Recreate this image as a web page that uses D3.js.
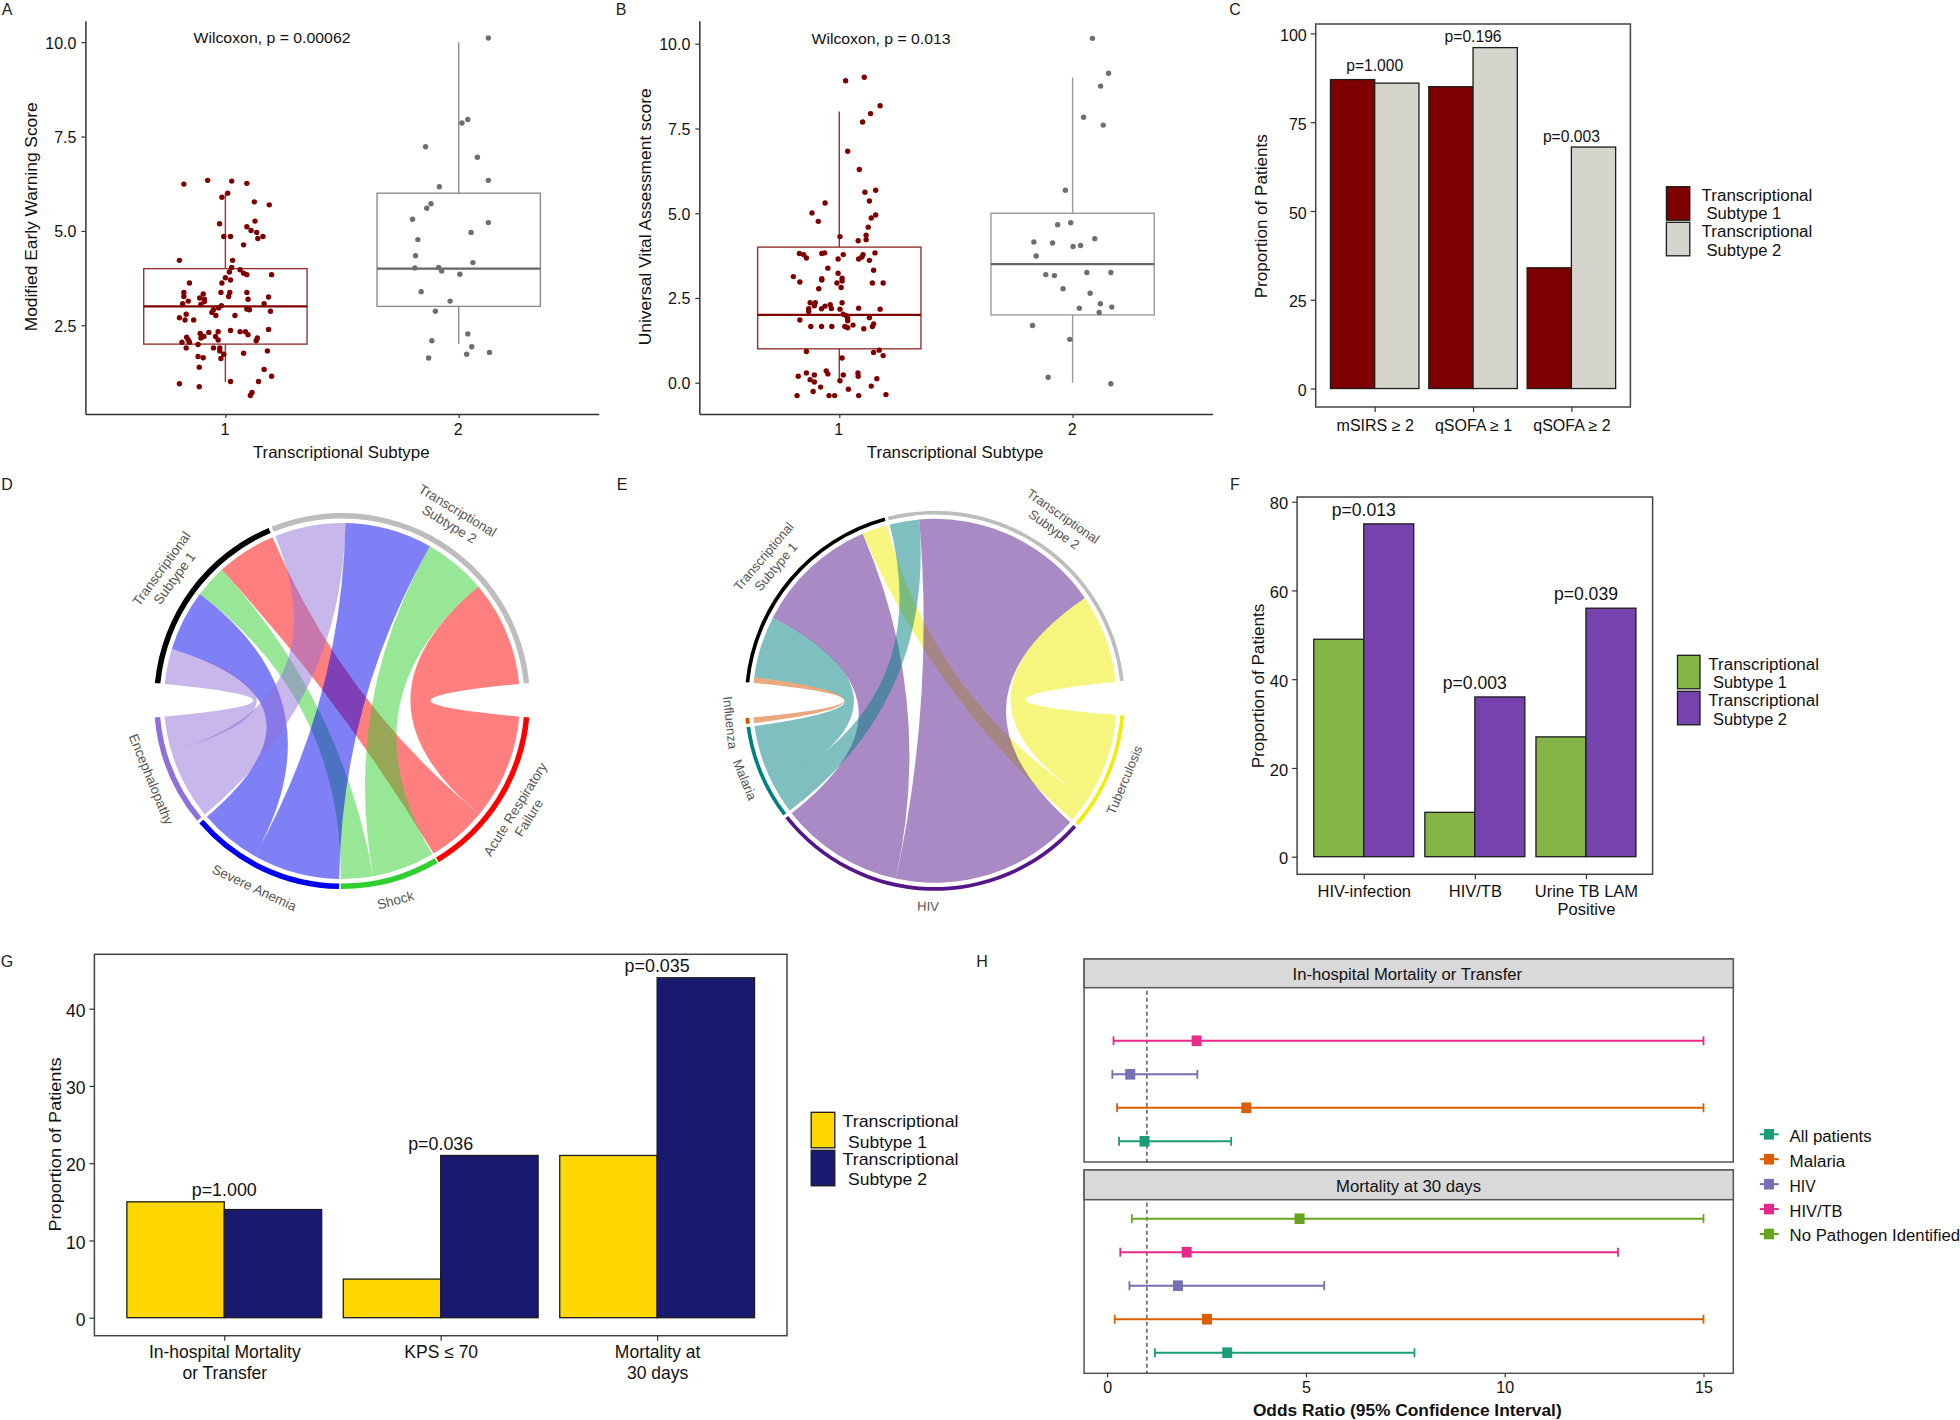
<!DOCTYPE html>
<html><head><meta charset="utf-8">
<script src="https://cdn.jsdelivr.net/npm/d3@7/dist/d3.min.js"></script>
<style>
html,body{margin:0;padding:0;background:#fff}
svg{display:block}
text{font-family:"Liberation Sans",Arial,sans-serif;fill:#111}
</style></head><body><svg id="c" width="1960" height="1420" viewBox="0 0 1960 1420"></svg>
<script>
// ---------- Panel A: MEWS, [jitter offset, score]
const mewsSubtype1=[[-.178,6.24],[-.076,6.34],[.027,6.32],[.092,6.26],[.010,6.00],[-.015,5.89],[.124,5.77],[.188,5.69],[-.025,5.19],[.127,5.26],[.092,5.11],[.110,5.01],[.134,4.96],[.161,4.85],[.139,4.80],[-.007,4.85],[.022,4.85],[.078,4.63],[-.197,4.22],[.031,4.22],[.027,4.03],[.063,3.97],[.017,3.91],[.078,3.88],[.092,3.84],[.198,3.84],[0,3.76],[.022,3.70],[-.015,3.62],[-.154,3.62],[-.178,3.37],[-.178,3.26],[-.095,3.33],[-.019,3.37],[.019,3.37],[.014,3.26],[.092,3.37],[-.110,3.22],[-.090,3.19],[.185,3.25],[.097,3.19],[-.159,3.14],[-.183,3.07],[-.090,3.13],[-.105,3.05],[.166,3.07],[-.017,3.02],[-.029,2.96],[-.051,2.91],[-.058,2.84],[.092,2.93],[.103,2.91],[.193,2.87],[-.168,2.79],[-.041,2.76],[.041,2.76],[-.197,2.70],[-.173,2.64],[-.136,2.64],[.185,2.39],[.022,2.36],[.063,2.33],[.086,2.33],[-.031,2.33],[-.071,2.31],[-.108,2.28],[.097,2.25],[-.166,2.18],[-.092,2.20],[-.105,2.16],[-.042,2.20],[.137,2.16],[-.159,2.11],[-.031,2.11],[.132,2.09],[-.186,2.05],[-.154,2.05],[-.117,1.99],[-.168,1.90],[-.051,1.90],[-.024,1.90],[-.024,1.82],[.180,1.82],[.078,1.76],[-.007,1.73],[-.117,1.67],[-.095,1.64],[-.019,1.62],[-.112,1.39],[.166,1.33],[.198,1.15],[.022,1.01],[.142,1.01],[-.197,.95],[-.112,.87],[.114,.72],[.107,.64]];
const mewsSubtype2=[[.127,10.11],[.039,7.95],[.014,7.86],[-.142,7.23],[.080,6.95],[.127,6.34],[-.083,6.17],[-.119,5.72],[-.137,5.60],[-.198,5.31],[.127,5.22],[.053,4.96],[-.175,4.77],[-.185,4.34],[.061,4.16],[-.188,4.02],[-.086,4.03],[-.073,3.94],[.005,3.85],[-.161,3.39],[-.037,3.14],[-.100,2.87],[.039,2.27],[-.115,2.09],[.056,1.93],[.132,1.78],[.034,1.73],[-.129,1.63]];
const mewsBoxes=[{cat:1,lo:1,q1:2,med:3,q3:4,hi:6},{cat:2,lo:2,q1:3,med:4,q3:6,hi:10}];
// ---------- Panel B: UVA
const uvaSubtype1=[[.107,9.01],[.027,8.91],[.175,8.17],[.134,7.94],[.100,7.69],[.036,6.83],[.086,6.29],[.110,5.62],[.156,5.68],[.129,5.36],[-.061,5.30],[-.117,5.01],[-.090,4.76],[.156,4.95],[.137,4.86],[.124,4.59],[.003,4.31],[.115,4.35],[.115,4.22],[.081,4.19],[-.171,3.81],[-.153,3.78],[-.141,3.68],[-.075,3.81],[-.063,3.83],[.017,3.78],[-.005,3.65],[.102,3.78],[.097,3.71],[.083,3.65],[.129,3.61],[.153,3.83],[-.049,3.38],[.147,3.32],[-.005,3.23],[-.197,3.13],[-.075,3.07],[.012,3.08],[-.075,3.03],[.012,3.00],[-.169,2.97],[-.010,2.94],[.142,2.94],[.188,2.94],[.008,2.81],[-.088,2.77],[-.125,2.36],[-.103,2.36],[.012,2.36],[-.039,2.30],[-.107,2.27],[-.061,2.26],[-.076,2.18],[-.034,2.19],[-.131,2.18],[-.131,2.10],[.003,2.17],[.083,2.20],[.175,2.17],[.017,2.02],[.029,1.98],[.129,1.92],[.036,1.90],[.036,1.83],[-.169,1.85],[.147,1.73],[.059,1.70],[-.122,1.66],[-.076,1.66],[-.032,1.66],[.024,1.66],[.036,1.62],[.142,1.66],[.105,1.59],[-.141,.92],[.147,.89],[.171,.96],[.188,.80],[.012,.73],[-.056,.35],[-.049,.26],[-.141,.29],[-.107,.23],[-.176,.19],[.017,.23],[.080,.29],[.081,.19],[.161,.12],[-.125,.09],[-.107,.02],[.003,.06],[.137,-.10],[-.080,-.13],[.039,-.19],[-.112,-.26],[.200,-.35],[-.181,-.38],[-.044,-.38],[-.020,-.38],[.083,-.38]];
const uvaSubtype2=[[.085,10.16],[.154,9.13],[.120,8.75],[.047,7.83],[.131,7.60],[-.031,5.68],[-.008,4.72],[-.064,4.66],[.095,4.25],[-.166,4.15],[-.086,4.12],[.034,4.05],[.002,4.02],[-.156,3.74],[.061,3.25],[.164,3.25],[-.115,3.19],[-.078,3.16],[-.041,2.77],[.075,2.64],[.119,2.33],[.168,2.23],[.029,2.20],[.114,2.07],[-.172,1.69],[-.012,1.28],[-.105,.16],[.164,-.03]];
const uvaBoxes=[{cat:1,lo:0,q1:1,med:2,q3:4,hi:8},{cat:2,lo:0,q1:2,med:3.5,q3:5,hi:9}];
// ---------- Bars
const subtypeLabel=["Transcriptional\n Subtype 1","Transcriptional\n Subtype 2"];
const cCats=["mSIRS ≥ 2","qSOFA ≥ 1","qSOFA ≥ 2"], cS1=[87,85,34], cS2=[86,96,68], cP=["p=1.000","p=0.196","p=0.003"];
const fCats=["HIV-infection","HIV/TB","Urine TB LAM\n Positive"], fS1=[49,10,27], fS2=[75,36,56], fP=["p=0.013","p=0.003","p=0.039"];
const gCats=["In-hospital Mortality\n or Transfer","KPS ≤ 70","Mortality at\n 30 days"], gS1=[15,5,21], gS2=[14,21,44], gP=["p=1.000","p=0.036","p=0.035"];
// ---------- Chord diagrams
const dTargets=["Acute Respiratory\nFailure","Shock","Severe Anemia","Encephalopathy"];
const dT1=[19.5,10.5,20,11.5], dT2=[34.5,20.4,28.5,23.1];
const dColors=["#ff0000","#2fcf2f","#0000ee","#8f6fd8"];
const eTargets=["Tuberculosis","HIV","Malaria","Influenza"];
const eT1=[8,39.4,19.7,1.8], eT2=[28.3,60.3,9.4,0];
const eColors=["#eeee00","#54168a","#008080","#d35400"];
// ---------- Panel H
const hGroups=["All patients","Malaria","HIV","HIV/TB","No Pathogen Identified"];
const hColors=["#1b9e77","#d95f02","#7570b3","#e7298a","#66a61e"];
const hMortTransfer=[{g:"HIV/TB",lo:.16,est:2.25,hi:15},{g:"HIV",lo:.13,est:.58,hi:2.27},{g:"Malaria",lo:.25,est:3.5,hi:15},{g:"All patients",lo:.30,est:.94,hi:3.12}];
const hMort30=[{g:"No Pathogen Identified",lo:.62,est:4.84,hi:15},{g:"HIV/TB",lo:.33,est:2.0,hi:12.85},{g:"HIV",lo:.56,est:1.78,hi:5.46},{g:"Malaria",lo:.19,est:2.51,hi:15},{g:"All patients",lo:1.2,est:3.02,hi:7.73}];

const svg=d3.select("#c");
const AX="#333";
function T(s,x,y,o={}){
  const t=svg.append("text").attr("x",x).attr("y",y).attr("dy",".36em")
    .attr("font-size",o.size||16).attr("text-anchor",o.anchor||"middle").text(s);
  if(o.rot!==undefined) t.attr("transform",`rotate(${o.rot},${x},${y})`);
  if(o.w) t.attr("textLength",o.w).attr("lengthAdjust","spacingAndGlyphs");
  if(o.weight) t.attr("font-weight",o.weight);
  if(o.fill) t.style("fill",o.fill);
  return t;
}
function styleAxis(g,size){
  g.selectAll("path,line").attr("stroke",AX).attr("stroke-width",1.2);
  g.selectAll("path.domain").attr("stroke-width",1.5);
  g.selectAll("text").attr("font-size",size||16).style("fill","#111");
}
function wrapTicks(g,lh){
  g.selectAll(".tick text").each(function(){
    const el=d3.select(this), parts=el.text().split("\n");
    if(parts.length<2) return;
    el.text(null);
    parts.forEach((p,i)=>el.append("tspan").attr("x",0).attr("dy",i?lh:"0.71em").text(p.trim()));
  });
}
// Box + jitter panel
function boxPanel(o){
  const x=d3.scaleLinear().domain([.4,2.6]).range(o.xr);
  const y=d3.scaleLinear().domain(o.yd).range([414,20.7]);
  const g=svg.append("g");
  o.boxes.forEach((b,i)=>{
    const c=o.boxCol[i], bg=g.append("g").attr("stroke",c).attr("fill","none");
    bg.append("line").attr("x1",x(b.cat)).attr("x2",x(b.cat)).attr("y1",y(b.lo)).attr("y2",y(b.q1)).attr("stroke-width",1.4);
    bg.append("line").attr("x1",x(b.cat)).attr("x2",x(b.cat)).attr("y1",y(b.q3)).attr("y2",y(b.hi)).attr("stroke-width",1.4);
    bg.append("rect").attr("x",x(b.cat-.35)).attr("width",x(b.cat+.35)-x(b.cat-.35)).attr("y",y(b.q3)).attr("height",y(b.q1)-y(b.q3)).attr("stroke-width",1.4);
    bg.append("line").attr("x1",x(b.cat-.35)).attr("x2",x(b.cat+.35)).attr("y1",y(b.med)).attr("y2",y(b.med)).attr("stroke-width",2.2).attr("stroke",o.medCol[i]);
  });
  o.pts.forEach((arr,i)=>{
    g.append("g").attr("fill",o.ptCol[i]).selectAll("circle").data(arr).join("circle")
      .attr("cx",d=>x(i+1+d[0])).attr("cy",d=>y(d[1])).attr("r",2.7);
  });
  const ay=svg.append("g").attr("transform",`translate(${o.xr[0]},0)`)
    .call(d3.axisLeft(y).tickValues(o.yt).tickFormat(d3.format(".1f")).tickSize(4).tickPadding(5).tickSizeOuter(0));
  styleAxis(ay);
  ay.selectAll("text").attr("y",.7);
  const ax=svg.append("g").attr("transform","translate(0,414)")
    .call(d3.axisBottom(x).tickValues([1,2]).tickFormat(d3.format("d")).tickSize(4).tickPadding(6).tickSizeOuter(0));
  styleAxis(ax);
  ax.selectAll("text").attr("x",-1);
  T("Transcriptional Subtype",x(1.5)-.8,451.7,{w:176.6,size:16.5});
  T(o.ytitle,o.ytx,216.8,{rot:-90,w:o.ytw,size:16});
  T(o.wil,o.wx,o.wy,{w:o.ww,size:15});
}
boxPanel({xr:[85.4,598.7],yd:[.148,10.57],yt:[2.5,5,7.5,10],boxes:mewsBoxes,pts:[mewsSubtype1,mewsSubtype2],
 boxCol:["#973333","#8c8c8c"],medCol:["#7f0000","#666"],ptCol:["#7f0000","#6e6e6e"],ytitle:"Modified Early Warning Score",ytx:31.6,ytw:229,wil:"Wilcoxon, p = 0.00062",wx:272,wy:37.7,ww:157});
boxPanel({xr:[699.3,1212.6],yd:[-.923,10.68],yt:[0,2.5,5,7.5,10],boxes:uvaBoxes,pts:[uvaSubtype1,uvaSubtype2],
 boxCol:["#973333","#9a9a9a"],medCol:["#7f0000","#666"],ptCol:["#7f0000","#6e6e6e"],ytitle:"Universal Vital Assessment score",ytx:645.6,ytw:257,wil:"Wilcoxon, p = 0.013",wx:881,wy:38.7,ww:139});

// Grouped bars
function barPanel(o){
  const x=d3.scalePoint().domain(o.cats).range(o.xr).padding(.6);
  const y=d3.scaleLinear().domain(o.yd).range(o.yr);
  const bw=x.step()*.45;
  svg.append("rect").attr("x",o.xr[0]).attr("y",o.yr[1]).attr("width",o.xr[1]-o.xr[0]).attr("height",o.yr[0]-o.yr[1])
    .attr("fill","none").attr("stroke","#444").attr("stroke-width",1.5);
  const stroke="#1c1c1c";
  [o.s1,o.s2].forEach((vals,j)=>{
    svg.append("g").selectAll("rect").data(vals).join("rect")
      .attr("x",(d,i)=>x(o.cats[i])+(j?0:-bw)).attr("width",bw)
      .attr("y",d=>y(d)).attr("height",d=>y(0)-y(d))
      .attr("fill",o.cols[j]).attr("stroke",stroke).attr("stroke-width",1.3);
  });
  const ay=svg.append("g").attr("transform",`translate(${o.xr[0]},0)`)
    .call(d3.axisLeft(y).tickValues(o.yt).tickSize(5).tickPadding(4).tickSizeOuter(0));
  styleAxis(ay,o.tsize);
  ay.select(".domain").remove();
  ay.selectAll("text").attr("y",2);
  const ax=svg.append("g").attr("transform",`translate(0,${o.yr[0]})`)
    .call(d3.axisBottom(x).tickSize(5).tickPadding(o.tp||7).tickSizeOuter(0));
  styleAxis(ax,o.tsize);
  ax.select(".domain").remove();
  wrapTicks(ax,o.lh);
  o.p.forEach((s,i)=>T(s,x(o.cats[i]),o.py[i],{size:o.psize,w:o.pw}));
  T("Proportion of Patients",o.ytx,o.yty,{rot:-90,w:o.ytw,size:o.ytsize||16});
  // legend
  const L=o.leg;
  [0,1].forEach(j=>{
    svg.append("rect").attr("x",L.x).attr("y",L.ys[j]).attr("width",L.sw).attr("height",L.sh)
      .attr("fill",o.cols[j]).attr("stroke",stroke).attr("stroke-width",1.3);
    const [a,b]=subtypeLabel[j].split("\n");
    T(a,L.tx,L.ty[j][0],{anchor:"start",w:L.tw,size:L.size});
    T(b.trim(),L.tx2,L.ty[j][1],{anchor:"start",w:L.tw2,size:L.size});
  });
}
barPanel({cats:cCats,s1:cS1,s2:cS2,p:cP,cols:["#7f0000","#d5d5ce"],xr:[1315.7,1630.4],yr:[407,24],yd:[-5.2,102.65],yt:[0,25,50,75,100],
  py:[65,36.7,136.7],psize:16,pw:57,ytx:1261,yty:216.3,ytw:164,tsize:16,lh:20,tp:8,
  leg:{x:1666.4,ys:[186.7,222.3],sw:23.4,sh:33.5,tx:1701.6,tx2:1706.4,tw:110.7,tw2:75,size:16,ty:[[195,213.7],[231,250.7]]}});
barPanel({cats:fCats,s1:fS1,s2:fS2,p:fP,cols:["#84b546","#7642ae"],xr:[1297.1,1652.6],yr:[874.3,497],yd:[-3.97,81.06],yt:[0,20,40,60,80],
  py:[509.3,682.3,594],psize:17.5,pw:64,ytx:1258.4,yty:686,ytw:164.6,tsize:16.5,lh:18,tp:6,
  leg:{x:1677.5,ys:[655.3,691.3],sw:22.5,sh:33.5,tx:1708.3,tx2:1713,tw:110.7,tw2:74,size:16,ty:[[664.3,682.3],[700,719.3]]}});
barPanel({cats:gCats,s1:gS1,s2:gS2,p:gP,cols:["#ffd700","#191970"],xr:[94.4,787],yr:[1335.7,954.3],yd:[-2.33,47.04],yt:[0,10,20,30,40],
  py:[1189.3,1144,966],psize:17.5,pw:65,ytx:55.5,yty:1144.5,ytw:174,ytsize:16.5,tsize:17.5,lh:20.7,tp:5,
  leg:{x:811.2,ys:[1112.3,1150.3],sw:23.6,sh:35.5,tx:842.5,tx2:848,tw:116,tw2:79,size:17,ty:[[1121.3,1141.7],[1159,1179.3]]}});

// Chord panels
function chordPanel(o){
  const k=(360-d3.sum(o.gaps))/(2*(d3.sum(o.t1)+d3.sum(o.t2)));
  const rad=d=>d*Math.PI/180;
  let a=o.start; const sec={};
  const n=o.targets.length, rib=[];
  const place=(name,w)=>{sec[name]=[a,a+w*k];const s=a;a+=w*k;return s;};
  // Transcriptional Subtype 2 first, then targets clockwise, then Subtype 1
  const t2Start=place("T2",d3.sum(o.t2)); a+=o.gaps[0];
  const tStarts=o.targets.map((t,i)=>{const s=place(t,o.t1[i]+o.t2[i]); a+=o.gaps[1+i]; return s;});
  const t1Start=place("T1",d3.sum(o.t1));
  const srcSlices=(vals,start)=>{let c=start;const r=[];for(let i=n-1;i>=0;i--){r[i]=[c,c+vals[i]*k];c+=vals[i]*k;}return r;};
  const s2=srcSlices(o.t2,t2Start), s1=srcSlices(o.t1,t1Start);
  o.targets.forEach((t,i)=>{
    const m=tStarts[i]+o.t2[i]*k;
    if(o.t2[i]>0) rib.push({s:s2[i],t:[tStarts[i],m],c:o.colors[i]});
    rib.push({s:s1[i],t:[m,m+o.t1[i]*k],c:o.colors[i]});
  });
  const g=svg.append("g").attr("transform",`translate(${o.cx},${o.cy})`);
  const ribbon=d3.ribbon().radius(o.rr);
  g.selectAll("path.rb").data(rib).join("path").attr("class","rb")
    .attr("d",d=>ribbon({source:{startAngle:rad(d.s[0]),endAngle:rad(d.s[1])},target:{startAngle:rad(d.t[0]),endAngle:rad(d.t[1])}}))
    .attr("fill",d=>d.c).attr("fill-opacity",.5);
  const arc=d3.arc().innerRadius(o.ri).outerRadius(o.ro);
  const ringCols={T1:"#000",T2:"#bdbdbd"};
  o.targets.forEach((t,i)=>ringCols[t]=o.colors[i]);
  Object.keys(sec).forEach(k2=>{
    g.append("path").attr("d",arc({startAngle:rad(sec[k2][0]),endAngle:rad(sec[k2][1])})).attr("fill",ringCols[k2]);
  });
  // labels
  const lab=(name,txt,r)=>{
    const mid=(sec[name][0]+sec[name][1])/2, m=((mid%360)+360)%360;
    const px=o.cx+r*Math.sin(rad(m)), py=o.cy-r*Math.cos(rad(m));
    const rot=(m>90&&m<270)?m-180:(m>=270?m-360:m);
    const lines=txt.split("\n"), lh=16;
    const gl=svg.append("g").attr("transform",`translate(${px},${py}) rotate(${rot})`);
    lines.forEach((l,i)=>gl.append("text").attr("text-anchor","middle").attr("dy",".36em")
      .attr("y",(i-(lines.length-1)/2)*lh).attr("font-size",o.ls).style("fill","#555").text(l));
  };
  lab("T1","Transcriptional\nSubtype 1",o.lr[0]);
  lab("T2","Transcriptional\nSubtype 2",o.lr[1]);
  o.targets.forEach((t,i)=>lab(t,t,o.lt[i]));
}
chordPanel({cx:342,cy:701,rr:178,ri:182.5,ro:188,ls:13.5,start:338,gaps:[10.5,.5,.5,1,10.5,1],targets:dTargets,t1:dT1,t2:dT2,colors:dColors,lr:[216,215],lt:[212,206,206,206]});
chordPanel({cx:934.7,cy:700.8,rr:182,ri:186.3,ro:190,ls:13,start:345.7,gaps:[10.5,1,1,1,10.8,1],targets:eTargets,t1:eT1,t2:eT2,colors:eColors,lr:[216,217],lt:[205.5,205.5,205.5,205.5]});

// Panel H
const hx=d3.scaleLinear().domain([-.58,15.75]).range([1084.1,1733.3]);
function forest(data,top,strip,bottom,title,tw,tcx){
  const y=d3.scalePoint().domain(hGroups).range([top.all,top.all-4*33.5]);
  svg.append("rect").attr("x",1084.1).attr("y",strip).attr("width",649.2).attr("height",bottom-strip).attr("fill","none").attr("stroke","#555").attr("stroke-width",1.5);
  svg.append("rect").attr("x",1084.1).attr("y",strip).attr("width",649.2).attr("height",top.stripH).attr("fill","#d9d9d9").attr("stroke","#555").attr("stroke-width",1.5);
  T(title,tcx,strip+top.stripH/2+1,{w:tw,size:16});
  svg.append("line").attr("x1",hx(1)).attr("x2",hx(1)).attr("y1",strip+top.stripH+3).attr("y2",bottom).attr("stroke","#222").attr("stroke-width",1.1).attr("stroke-dasharray","4 3");
  const c=g=>hColors[hGroups.indexOf(g)];
  const gg=svg.append("g").selectAll("g").data(data).join("g");
  gg.append("line").attr("x1",d=>hx(d.lo)).attr("x2",d=>hx(d.hi)).attr("y1",d=>y(d.g)).attr("y2",d=>y(d.g)).attr("stroke",d=>c(d.g)).attr("stroke-width",2);
  [["lo"],["hi"]].forEach(([key])=>{
    gg.append("line").attr("x1",d=>hx(d[key])).attr("x2",d=>hx(d[key])).attr("y1",d=>y(d.g)-4.5).attr("y2",d=>y(d.g)+4.5).attr("stroke",d=>c(d.g)).attr("stroke-width",1.8);
  });
  gg.append("rect").attr("x",d=>hx(d.est)-5).attr("y",d=>y(d.g)-5.3).attr("width",10).attr("height",10.6).attr("fill",d=>c(d.g));
}
forest(hMortTransfer,{all:1141.3,stripH:28.7},959,1162,"In-hospital Mortality or Transfer",229.6,1407.3);
forest(hMort30,{all:1352.7,stripH:29.7},1170,1373.3,"Mortality at 30 days",145,1408.5);
const hAx=svg.append("g").attr("transform","translate(0,1373.3)")
  .call(d3.axisBottom(hx).tickValues([0,5,10,15]).tickFormat(d3.format("d")).tickSize(4).tickPadding(4).tickSizeOuter(0));
styleAxis(hAx,16); hAx.select(".domain").remove();
T("Odds Ratio (95% Confidence Interval)",1407.3,1410.7,{w:308.8,size:16,weight:"bold"});
const hLegY=d3.scalePoint().domain(hGroups).range([1134.3,1234]);
const hLegW=[82,55.7,26,52.8,170.5];
hGroups.forEach((g,i)=>{
  const yy=hLegY(g);
  svg.append("line").attr("x1",1759.8).attr("x2",1778.7).attr("y1",yy).attr("y2",yy).attr("stroke",hColors[i]).attr("stroke-width",2);
  svg.append("rect").attr("x",1764).attr("y",yy-5.3).attr("width",10).attr("height",10.6).attr("fill",hColors[i]);
  T(g,1789.6,yy+1.7,{anchor:"start",w:hLegW[i],size:16});
});
// Panel letters
[["A",7,9.5],["B",621,9.5],["C",1235,9.5],["D",7,484.5],["E",622,484.5],["F",1235,484],["G",7,961.7],["H",982,961.7]]
 .forEach(([s,x,y])=>T(s,x,y,{size:16,fill:"#222"}));
</script></body></html>
